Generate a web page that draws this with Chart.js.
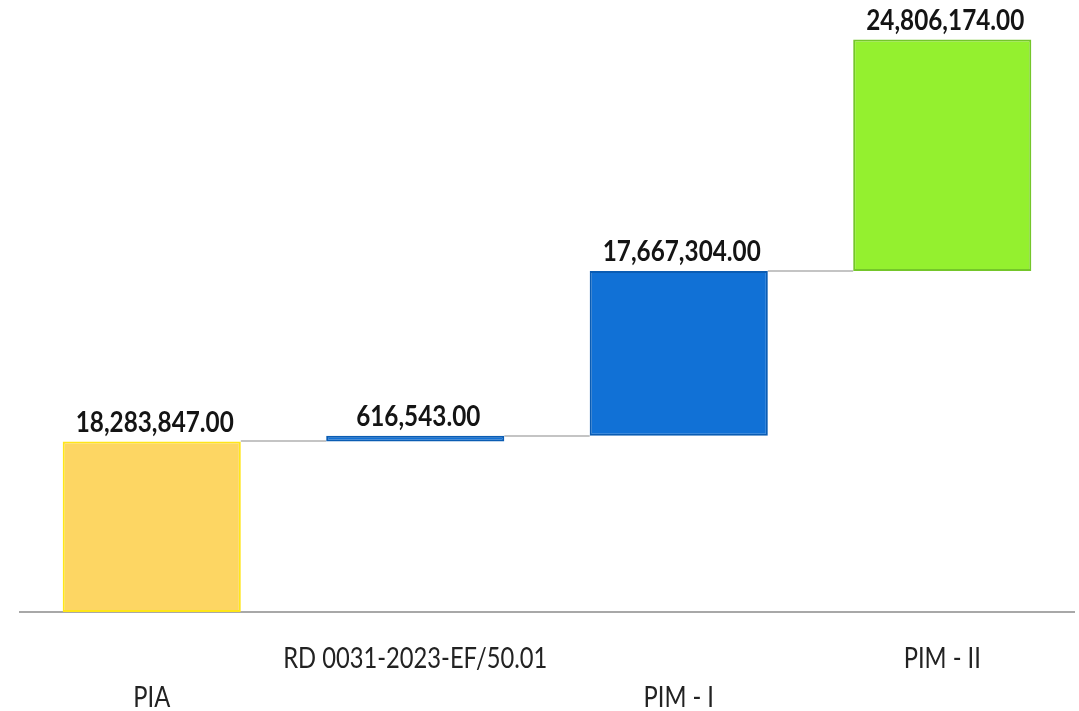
<!DOCTYPE html>
<html><head><meta charset="utf-8">
<script src="https://cdn.jsdelivr.net/npm/chart.js@4.4.1/dist/chart.umd.min.js"></script>
<style>html,body{margin:0;padding:0;background:#fff}#wrap{width:1079px;height:711px;position:relative}</style>
</head><body><div id="wrap"><canvas id="c"></canvas></div>
<script>
const categories = ['PIA', 'RD 0031-2023-EF/50.01', 'PIM - I', 'PIM - II'];
const values = [18283847, 616543, 17667304, 24806174];
const labelRow = [1, 0, 1, 0]; // staggered category labels: 0 = upper row, 1 = lower row
const fillColors = ['#FDD663', '#1171D6', '#1171D6', '#94F02F'];
const borderColors = ['#FFE619', '#0A5CB3', '#0A5CB3', '#74C62A'];

const starts = [];
let run = 0;
values.forEach(v => { starts.push(run); run += v; });
const floating = values.map((v, i) => [starts[i], starts[i] + v]);
const fmt = v => v.toLocaleString('en-US', {minimumFractionDigits: 2, maximumFractionDigits: 2});

const FONT_FAMILY = 'Lato, "Open Sans", sans-serif';

function stretchedText(ctx, text, x, y, font, targetRefText, targetWidth, color) {
  ctx.save();
  ctx.font = font;
  const sx = targetWidth / ctx.measureText(targetRefText).width;
  ctx.fillStyle = color;
  ctx.textAlign = 'center';
  ctx.textBaseline = 'alphabetic';
  ctx.translate(x, y);
  ctx.scale(sx, 1);
  ctx.fillText(text, 0, 0);
  ctx.restore();
}

const waterfallPlugin = {
  id: 'waterfall',
  beforeDatasetsDraw(chart) {
    const ctx = chart.ctx, meta = chart.getDatasetMeta(0), y = chart.scales.y;
    ctx.save();
    ctx.strokeStyle = '#C4C4C4';
    ctx.lineWidth = 2;
    for (let i = 0; i < values.length - 1; i++) {
      const a = meta.data[i], b = meta.data[i + 1];
      const py = Math.round(y.getPixelForValue(starts[i] + values[i]));
      ctx.beginPath();
      ctx.moveTo(a.x + a.width / 2, py);
      ctx.lineTo(b.x - b.width / 2, py);
      ctx.stroke();
    }
    ctx.restore();
  },
  afterDraw(chart) {
    const ctx = chart.ctx, meta = chart.getDatasetMeta(0), y = chart.scales.y, x = chart.scales.x;
    const bottom = chart.chartArea.bottom;
    values.forEach((v, i) => {
      const top = y.getPixelForValue(starts[i] + v);
      stretchedText(ctx, fmt(v), meta.data[i].x + 3, top - 9.5,
        'bold 28px ' + FONT_FAMILY, '18,283,847.00', 158, '#141414');
      const cx = x.getPixelForValue(i);
      const ly = bottom + (labelRow[i] === 0 ? 56 : 94.5);
      stretchedText(ctx, categories[i], cx, ly,
        '28px ' + FONT_FAMILY, 'RD 0031-2023-EF/50.01', 264, '#222222');
    });
  }
};

new Chart(document.getElementById('c'), {
  type: 'bar',
  data: {
    labels: categories,
    datasets: [{
      data: floating,
      backgroundColor: fillColors,
      borderColor: borderColors,
      borderWidth: 2,
      borderSkipped: false,
      barPercentage: 0.676,
      categoryPercentage: 1.0
    }]
  },
  options: {
    responsive: true,
    maintainAspectRatio: false,
    animation: false,
    devicePixelRatio: 1,
    layout: {padding: {left: 20, right: 5, top: 5.7, bottom: 99}},
    plugins: {legend: {display: false}, tooltip: {enabled: false}},
    scales: {
      x: {
        grid: {display: false, drawTicks: false},
        border: {display: true, color: '#A8A8A8', width: 2},
        ticks: {display: false},
        afterFit: s => { s.height = 0; }
      },
      y: {display: false, min: 0, max: 65000000}
    }
  },
  plugins: [waterfallPlugin]
});
</script>
</body></html>
